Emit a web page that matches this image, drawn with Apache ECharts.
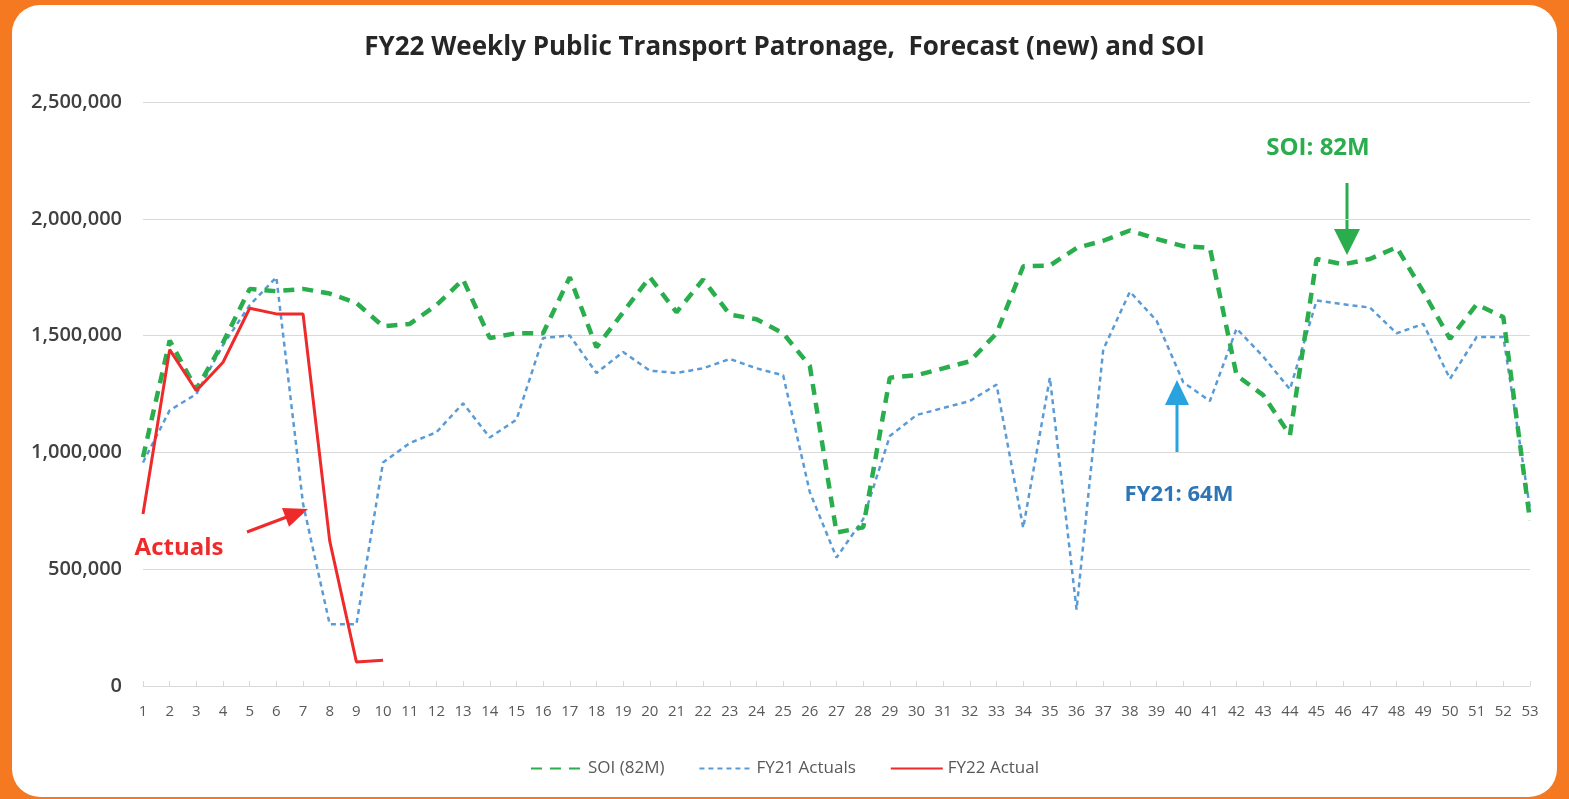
<!DOCTYPE html>
<html>
<head>
<meta charset="utf-8">
<title>FY22 Weekly Public Transport Patronage</title>
<script src="https://cdn.jsdelivr.net/npm/echarts@6/dist/echarts.min.js"></script>
<style>
    html, body { margin: 0; padding: 0; background: #f47920; }
    .card {
        position: absolute; left: 12px; top: 5px; width: 1545px; height: 792px;
        background: #fff; border-radius: 28px;
    }
    #main { position: absolute; left: 0; top: 0; width: 1569px; height: 799px; }
</style>
</head>
<body>
<div class="card"></div>
<div id="main"></div>
<script>
'use strict';

// 周次
var weeks = [];
for (var w = 1; w <= 53; w++) weeks.push(String(w));

// SOI (82M)
var soiData = [979000, 1479000, 1270000, 1470000, 1700000, 1690000, 1700000, 1680000, 1640000, 1540000,
    1550000, 1630000, 1740000, 1490000, 1510000, 1510000, 1750000, 1450000, 1600000, 1750000,
    1600000, 1740000, 1590000, 1570000, 1510000, 1370000, 657000, 679000, 1320000, 1330000,
    1360000, 1390000, 1510000, 1797000, 1800000, 1875000, 1906000, 1950000, 1914000, 1883000,
    1875000, 1330000, 1245000, 1074000, 1828000, 1805000, 1828000, 1878000, 1688000, 1486000,
    1634000, 1579000, 708000];

// FY21 Actuals
var fy21Data = [957000, 1180000, 1250000, 1460000, 1630000, 1750000, 780000, 264000, 264000, 957000,
    1040000, 1086000, 1210000, 1064000, 1140000, 1490000, 1500000, 1340000, 1430000, 1350000,
    1340000, 1360000, 1400000, 1360000, 1330000, 830000, 550000, 714000, 1070000, 1160000,
    1190000, 1220000, 1290000, 677000, 1320000, 327000, 1440000, 1688000, 1564000, 1300000,
    1220000, 1530000, 1410000, 1270000, 1650000, 1634000, 1620000, 1510000, 1550000, 1315000,
    1494000, 1494000, 760000];

// FY22 Actual (只到第10周)
var fy22Data = [736000, 1440000, 1264000, 1386000, 1617000, 1593000, 1593000, 621000, 103000, 110000];

var yTicks = [0, 500000, 1000000, 1500000, 2000000, 2500000];

var GREEN = '#2aad4d', BLUE = '#5b9bd5', RED = '#ee2a2a';

// 箭头: 线 + 三角
function arrow(x1, y1, x2, y2, color, width, headLen, headW) {
    var dx = x2 - x1, dy = y2 - y1;
    var len = Math.sqrt(dx * dx + dy * dy);
    var ux = dx / len, uy = dy / len;
    var bx = x2 - ux * headLen, by = y2 - uy * headLen;
    return [{
        type: 'line',
        shape: { x1: x1, y1: y1, x2: bx + ux * 2, y2: by + uy * 2 },
        style: { stroke: color, lineWidth: width }
    }, {
        type: 'polygon',
        shape: { points: [[x2, y2], [bx - uy * headW / 2, by + ux * headW / 2], [bx + uy * headW / 2, by - ux * headW / 2]] },
        style: { fill: color }
    }];
}

function noteText(x, y, text, color, size) {
    return {
        type: 'text', x: x, y: y,
        style: {
            text: text, fill: color, font: 'bold ' + size + 'px "Open Sans"',
            textAlign: 'center', textVerticalAlign: 'middle'
        }
    };
}

var graphics = [].concat(
    noteText(1318, 148, 'SOI: 82M', GREEN, 24),
    arrow(1347, 183, 1347, 255, GREEN, 3, 26, 26),
    noteText(1179, 495, 'FY21: 64M', '#2e75b6', 22),
    arrow(1177, 452, 1177, 380, '#29a3dd', 3, 25, 24),
    noteText(179, 548, 'Actuals', RED, 24),
    arrow(247, 532, 308, 509, RED, 3, 24, 20)
);

var option = {
    animation: false,
    title: {
        text: 'FY22 Weekly Public Transport Patronage,  Forecast (new) and SOI',
        left: 'center',
        top: 30,
        textStyle: { fontFamily: 'Open Sans', fontSize: 26, fontWeight: 'bold', color: '#262626' }
    },
    legend: {
        bottom: 17,
        left: 'center',
        itemWidth: 52,
        itemHeight: 14,
        itemGap: 34,
        itemStyle: { opacity: 0 },
        textStyle: { fontFamily: 'Open Sans', fontSize: 17, color: '#595959' },
        data: ['SOI (82M)', 'FY21 Actuals', 'FY22 Actual']
    },
    grid: { left: 143, right: 39, top: 102, bottom: 113, containLabel: false },
    xAxis: {
        type: 'category',
        data: weeks,
        boundaryGap: false,
        axisLine: { lineStyle: { color: '#d9d9d9' } },
        axisTick: { inside: true, length: 5, lineStyle: { color: '#d9d9d9' } },
        axisLabel: { interval: 0, margin: 18, fontFamily: 'Open Sans', fontSize: 15, color: '#595959' }
    },
    yAxis: {
        type: 'value',
        min: 0,
        max: yTicks[yTicks.length - 1],
        interval: yTicks[1] - yTicks[0],
        axisLine: { show: false },
        axisTick: { show: false },
        splitLine: { lineStyle: { color: '#d9d9d9' } },
        axisLabel: {
            margin: 21,
            fontFamily: 'Open Sans', fontSize: 20, fontWeight: 600, color: '#404040',
            formatter: function(v) { return v.toLocaleString('en-US'); }
        }
    },
    series: [{
        name: 'SOI (82M)',
        type: 'line',
        data: soiData,
        symbol: 'none',
        z: 3,
        lineStyle: { color: GREEN, width: 4.5, type: [11, 8] },
        itemStyle: { color: GREEN }
    }, {
        name: 'FY21 Actuals',
        type: 'line',
        data: fy21Data,
        symbol: 'none',
        z: 2,
        lineStyle: { color: BLUE, width: 2.5, type: [5, 4] },
        itemStyle: { color: BLUE }
    }, {
        name: 'FY22 Actual',
        type: 'line',
        data: fy22Data,
        symbol: 'none',
        z: 4,
        lineStyle: { color: RED, width: 3 },
        itemStyle: { color: RED }
    }],
    graphic: graphics
};

var myChart = echarts.init(document.getElementById('main'));
myChart.setOption(option);
</script>
</body>
</html>
